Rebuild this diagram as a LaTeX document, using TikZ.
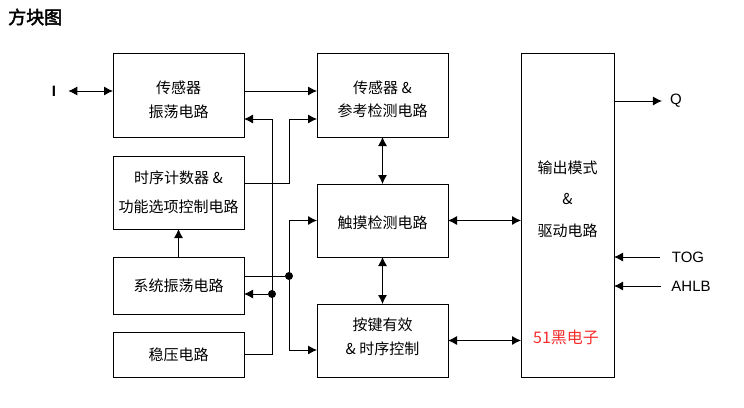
\documentclass[tikz,border=0pt]{standalone}
\usepackage{fontspec}
\setmainfont{Liberation Sans}
\newfontfamily\cjk{Noto Sans CJK SC}
\newfontfamily\cjkbold[FakeBold=2.5]{Noto Sans CJK SC}
\usetikzlibrary{arrows.meta}
\definecolor{markred}{RGB}{245,45,45}

\begin{document}
\begin{tikzpicture}[
    x=1pt, y=-1pt,
    every node/.style={font=\cjk\fontsize{15}{23.5}\selectfont, align=center},
    block/.style={rectangle, draw=black, line width=0.9pt, minimum width=131pt,
                  inner sep=0pt, outer sep=0pt},
    pin/.style={font=\fontsize{15}{17}\selectfont, inner sep=0pt},
    dot/.style={circle, fill=black, inner sep=0pt, minimum size=8pt},
    arr/.style={-{Latex[length=9pt,width=9pt]}, line width=0.9pt},
    dblarr/.style={{Latex[length=9pt,width=9pt]}-{Latex[length=9pt,width=9pt]}, line width=0.9pt},
]
    \useasboundingbox (0,0) rectangle (744,407);
    \node[font=\cjkbold\fontsize{18}{20}\selectfont, anchor=west, inner sep=0pt] (title) at (8,17) {方块图};
    \node[block, minimum height=84pt] (osc) at (178.5,95) {\rule{0pt}{22pt}传感器\\振荡电路};
    \node[block, minimum height=73pt] (timer) at (178.5,192.5) {时序计数器 \&\\[6pt]功能选项控制电路};
    \node[block, minimum height=57pt] (sysosc) at (178.5,285.5) {系统振荡电路};
    \node[block, minimum height=45pt] (reg) at (178.5,354.5) {稳压电路};
    \node[block, minimum height=84pt] (ref) at (382.5,95) {\rule{0pt}{21pt}传感器 \&\\参考检测电路};
    \node[block, minimum height=73pt] (touch) at (382.5,220.5) {\rule{0pt}{17pt}触摸检测电路};
    \node[block, minimum height=73pt] (key) at (382.5,340.5) {按键有效\\\& 时序控制\rule[-9pt]{0pt}{9pt}};
    \node[block, minimum width=93pt, minimum height=324pt] (out) at (567.5,215) {};
    \node[font=\cjk\fontsize{15}{31.5}\selectfont] (outlbl) at (567.5,199) {输出模式\\\&\\驱动电路};
    \node[text=markred, font=\cjk\fontsize{16}{18}\selectfont] (brand) at (566,337) {51黑电子};
    \node[pin, font=\bfseries\fontsize{15}{17}\selectfont] (I) at (54,91) {I};
    \node[pin] (Q) at (676,101) {Q};
    \node[pin] (tog) at (688,257) {TOG};
    \node[pin] (ahlb) at (691,286) {AHLB};
    \coordinate (busA) at (272,119);
    \coordinate (busB) at (289,119);
    \node[dot] (jA) at (272,294) {};
    \node[dot] (jB) at (289,276) {};
    \draw[dblarr] ([xshift=12pt]I.east) -- (I.east -| osc.west);
    \draw[arr] (osc.east |- I) -- (ref.west |- I);
    \draw[arr] (reg.east) -| (busA) -- (busA -| osc.east);
    \draw[arr] (jA) -- (jA -| sysosc.east);
    \draw[arr] ([yshift=9.5pt]timer.east) -| (busB) -- (busB -| ref.west);
    \draw[line width=0.9pt] ([yshift=9.5pt]sysosc.east) -- (jB);
    \draw[arr] (jB) |- (touch.west);
    \draw[arr] (jB) |- ([yshift=-9.5pt]key.west);
    \draw[arr] (sysosc.north) -- (timer.south);
    \draw[dblarr] (ref.south) -- (touch.north);
    \draw[dblarr] (touch.south) -- (key.north);
    \draw[dblarr] (touch.east) -- (touch.east -| out.west);
    \draw[dblarr] (key.east) -- (key.east -| out.west);
    \draw[arr] (out.east |- Q) -- ([xshift=-8pt]Q.west);
    \draw[arr] ([xshift=-12pt]tog.west) -- (tog -| out.east);
    \draw[arr] ([xshift=-10pt]ahlb.west) -- (ahlb -| out.east);
\end{tikzpicture}
\end{document}
